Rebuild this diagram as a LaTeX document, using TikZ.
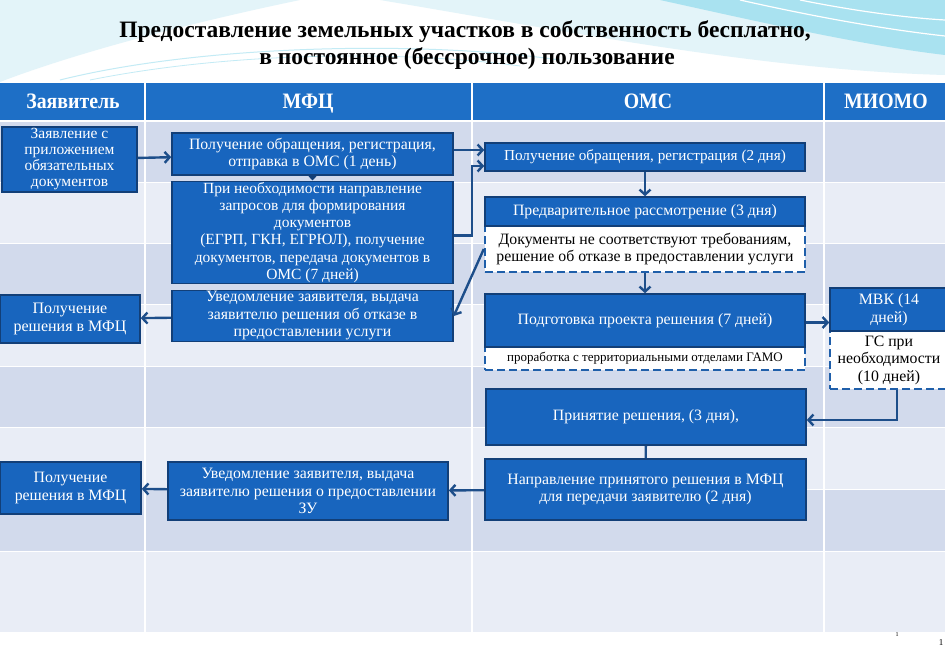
\documentclass[tikz,border=0pt]{standalone}
\usepackage{fontspec}
\setmainfont{Liberation Serif}
\newfontfamily\condfont[FakeStretch=0.9]{Liberation Serif}
\usepackage{tikz}
\usetikzlibrary{arrows.meta,positioning,calc}
\usepackage{xcolor}
\definecolor{hdrblue}{HTML}{1E6FC6}
\definecolor{boxblue}{HTML}{1865BE}
\definecolor{boxedge}{HTML}{123F78}
\definecolor{dashblue}{HTML}{1F5FAA}
\definecolor{arrblue}{HTML}{1D4E8A}
\definecolor{rowdark}{HTML}{D2DAEC}
\definecolor{rowlite}{HTML}{E9EDF6}
\definecolor{swlite}{HTML}{E3F4F9}
\definecolor{swcyan}{HTML}{A9E2F0}

\begin{document}
\begin{tikzpicture}[x=1pt, y=-1pt,
  blk/.style={draw=boxedge, line width=1.6pt, fill=boxblue, text=white, align=center, inner sep=1pt, font=\fontsize{15.8}{17.5}\selectfont},
  dsh/.style={draw=dashblue, dash pattern=on 8pt off 4pt, line width=2.4pt, fill=white, text=black, align=center, inner sep=1pt, font=\fontsize{15.8}{17.5}\selectfont},
  arr/.style={-{Straight Barb[length=5pt, width=11pt]}, line width=2.4pt, arrblue},
  lnk/.style={line width=2.4pt, arrblue},
  hdr/.style={text=white, anchor=base, font=\condfont\bfseries\fontsize{22}{24}\selectfont},
  ttl/.style={anchor=base, font=\bfseries\fontsize{23.5}{26}\selectfont},
  swl/.style={white, line width=1.2pt}]

\useasboundingbox (0,0) rectangle (945,655);
\fill[white] (0,0) rectangle (945,655);

%% ── backdrop swooshes ────────────────────────────────────
\fill[swlite] (0,0) -- (300,0) .. controls (180,25) and (70,55) .. (0,82) -- cycle;
\fill[swlite] (380,0) .. controls (560,30) and (760,70) .. (945,75) -- (945,0) -- cycle;
\fill[swcyan] (660,0) .. controls (760,22) and (860,45) .. (945,55) -- (945,0) -- cycle;
\draw[swl] (740,0) .. controls (820,18) and (890,30) .. (945,36);
\draw[swl] (800,0) .. controls (860,12) and (910,18) .. (945,20);
\draw[swcyan!70, line width=1pt] (60,80) .. controls (200,45) and (420,40) .. (560,60);
\draw[swcyan!70, line width=0.8pt] (90,80) .. controls (230,52) and (400,50) .. (520,66);

%% ── title ────────────────────────────────────────────────
\node[ttl] (ttl1) at (465,38) {Предоставление земельных участков в собственность бесплатно,};
\node[ttl] (ttl2) at (467,65) {в постоянное (бессрочное) пользование};

%% ── table ────────────────────────────────────────────────
\foreach \t/\b/\c in {122/183/rowdark, 183/244/rowlite, 244/305/rowdark, 305/367/rowlite,
                      367/428/rowdark, 428/490/rowlite, 490/552/rowdark, 552/633/rowlite}
  {\fill[\c] (0,\t) rectangle (945,\b);
   \draw[white, line width=1.5pt] (0,\b) -- (945,\b);}
\fill[hdrblue] (0,83) rectangle (945,120);
\foreach \x in {145,472,824}{\draw[white, line width=2pt] (\x,83) -- (\x,633);}
\node[hdr] (hApp) at (73,109) {Заявитель};
\node[hdr] (hMfc) at (308,109) {МФЦ};
\node[hdr] (hOms) at (648,109) {ОМС};
\node[hdr] (hMio) at (886,109) {МИОМО};

%% ── dashed notes (under the blue boxes) ──────────────────
\node[dsh, minimum width=320, minimum height=46] (rej) at (645,249)
  {Документы не соответствуют требованиям,\\решение об отказе в предоставлении услуги};
\node[dsh, minimum width=320, minimum height=23, font=\fontsize{13}{15}\selectfont] (gamo) at (645,358.5)
  {проработка с территориальными отделами ГАМО};
\node[dsh, minimum width=118, minimum height=58] (gs) at (889,360)
  {ГС при\\необходимости\\(10 дней)};

%% ── Заявитель ────────────────────────────────────────────
\node[blk, minimum width=135, minimum height=65, font=\fontsize{15.5}{16}\selectfont] (app1) at (69.5,159.5)
  {Заявление с\\приложением\\обязательных\\документов};
\node[blk, minimum width=140, minimum height=48, font=\fontsize{16}{18}\selectfont] (app2) at (70,319)
  {Получение\\решения в МФЦ};
\node[blk, minimum width=141, minimum height=52] (app3) at (70.5,488)
  {Получение\\решения в МФЦ};

%% ── МФЦ ──────────────────────────────────────────────────
\node[blk, minimum width=281, minimum height=42] (mfc1) at (312.5,154)
  {Получение обращения, регистрация,\\отправка в ОМС (1 день)};
\node[blk, minimum width=281, minimum height=102, font=\fontsize{15.5}{17.2}\selectfont] (mfc2) at (312.5,232.5)
  {При необходимости направление\\запросов для формирования\\документов\\(ЕГРП, ГКН, ЕГРЮЛ), получение\\документов, передача документов в\\ОМС (7 дней)};
\node[blk, minimum width=281, minimum height=48] (mfc3) at (312.5,316)
  {Уведомление заявителя, выдача\\заявителю решения об отказе в\\предоставлении услуги};
\node[blk, minimum width=280, minimum height=58] (mfc4) at (308,491)
  {Уведомление заявителя, выдача\\заявителю решения о предоставлении\\ЗУ};

%% ── ОМС ──────────────────────────────────────────────────
\node[blk, minimum width=320, minimum height=28, font=\fontsize{15.2}{17}\selectfont] (oms1) at (645,157)
  {Получение обращения, регистрация (2 дня)};
\node[blk, minimum width=320, minimum height=29] (oms2) at (645,211.5)
  {Предварительное рассмотрение (3 дня)};
\node[blk, minimum width=320, minimum height=53] (oms3) at (645,320.5)
  {Подготовка проекта решения (7 дней)};
\node[blk, minimum width=320, minimum height=56] (oms4) at (646,417)
  {Принятие решения, (3 дня),};
\node[blk, minimum width=321, minimum height=61] (oms5) at (645.5,489.5)
  {Направление принятого решения в МФЦ\\для передачи заявителю (2 дня)};

%% ── МИОМО ────────────────────────────────────────────────
\node[blk, minimum width=118, minimum height=43] (mvk) at (889,309.5)
  {МВК (14\\дней)};

%% ── connectors ───────────────────────────────────────────
\draw[arr] (app1) -- (mfc1);
\draw[boxedge, line width=1pt, -{Triangle[length=5pt, width=9pt]}] (mfc1) -- (mfc2);
\draw[arr] ([yshift=4pt]mfc1.east) -- ([yshift=7pt]oms1.west);
\draw[arr] ([yshift=-3pt]mfc2.east) -- ++(18,0) |- ([yshift=-9pt]oms1.west);
\draw[arr] (oms1) -- (oms2);
\draw[arr] (rej.west) -- (mfc3.east);
\draw[arr] (mfc3) -- (app2);
\draw[arr] (rej) -- (oms3);
\draw[arr] ([yshift=-2pt]oms3.east) -- ([yshift=-2pt]oms3.east -| mvk.west);
\draw[arr] ([xshift=8pt]gs.south) |- ([yshift=-3pt]oms4.east);
\draw[lnk] (oms4) -- (oms5);
\draw[arr] (oms5) -- (mfc4);
\draw[arr] (mfc4) -- (app3);

%% ── page marks ───────────────────────────────────────────
\node[font=\fontsize{6}{7}\selectfont] (pg1) at (897,635) {1};
\node[font=\fontsize{9}{10}\selectfont] (pg2) at (941,643) {1};
\end{tikzpicture}
\end{document}
